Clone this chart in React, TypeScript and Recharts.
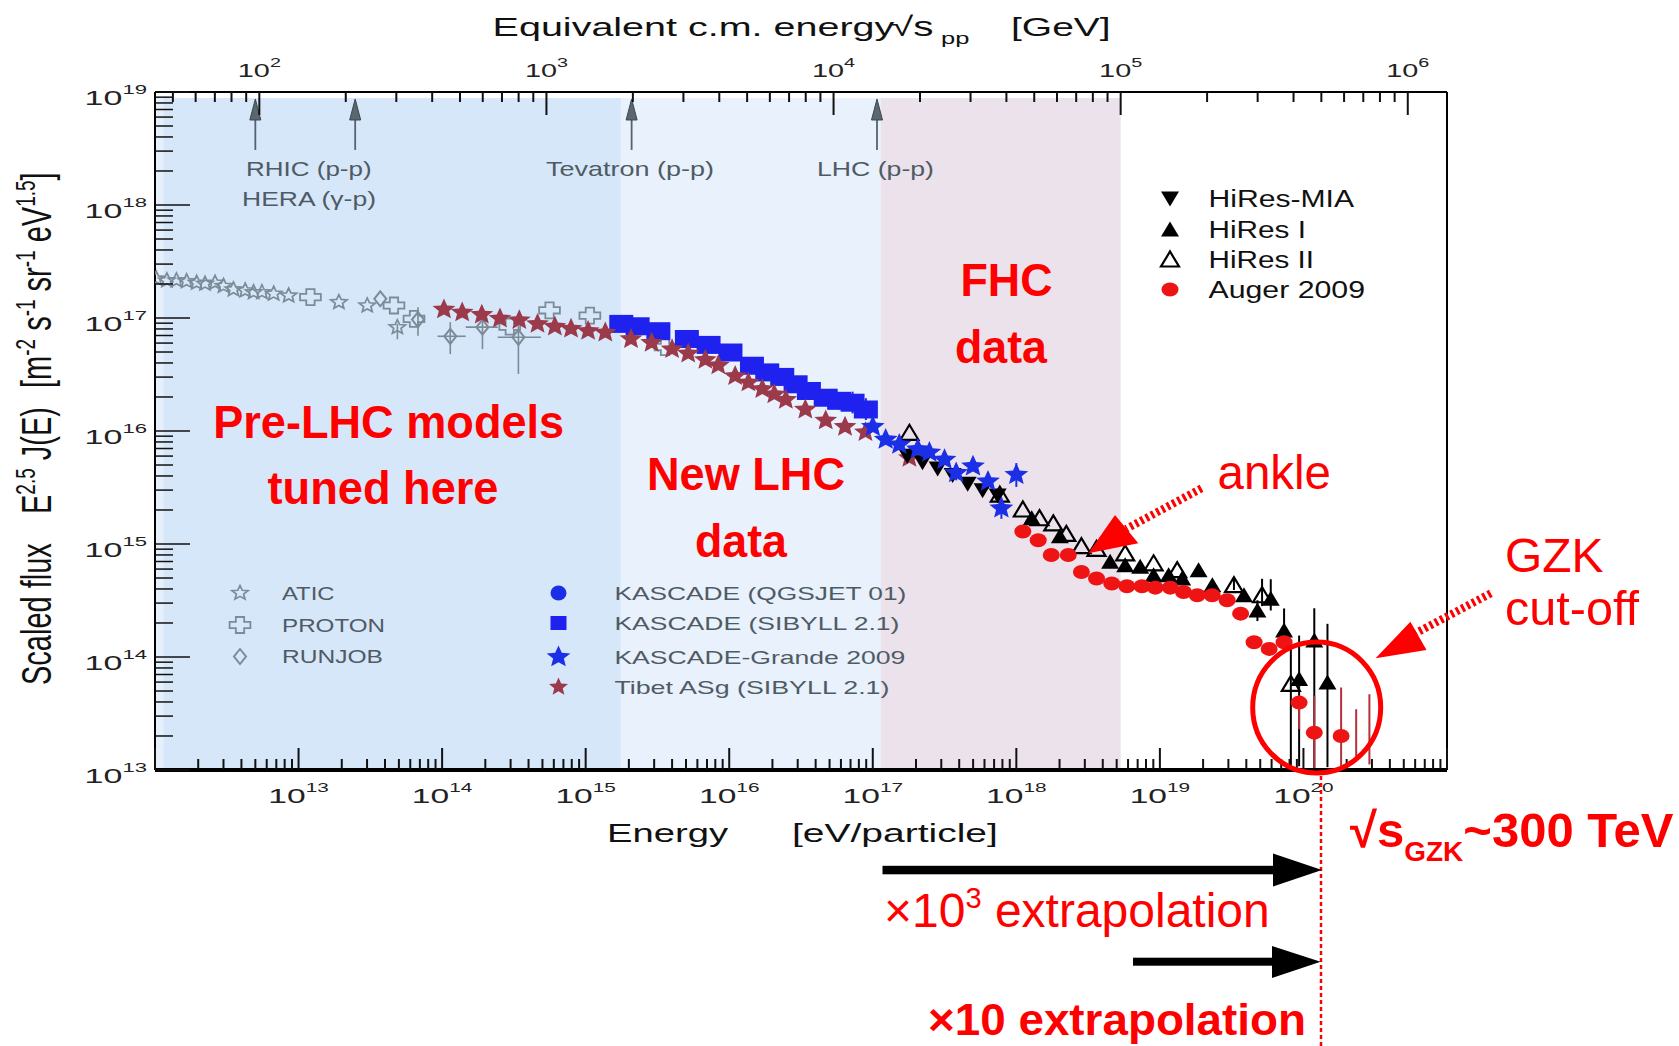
import React from "react";
import {
  ScatterChart,
  Scatter,
  XAxis,
  YAxis,
  ErrorBar,
  ReferenceArea,
  ReferenceLine,
  ReferenceDot,
} from "recharts";

const W = 1679;
const H = 1046;
const FONT = "'Liberation Sans', Arial, Helvetica, sans-serif";

// plot box (chart margins + axis sizes)
const MARGIN = { top: 32, right: 232, bottom: 216, left: 55 };
const Y_AXIS_W = 100;
const X_AXIS_H = 60;
const PLOT = {
  left: MARGIN.left + Y_AXIS_W,
  right: W - MARGIN.right,
  top: MARGIN.top + X_AXIS_H,
  bottom: H - MARGIN.bottom - X_AXIS_H,
};

// axes
const eDomain = [1e12, 1e21];
const fDomain = [1e13, 1e19];
const eDecades = [1e12, 1e13, 1e14, 1e15, 1e16, 1e17, 1e18, 1e19, 1e20, 1e21];
const fDecades = [1e13, 1e14, 1e15, 1e16, 1e17, 1e18, 1e19];
const sDecades = [1e2, 1e3, 1e4, 1e5, 1e6];
const sLowMinors = [50, 60, 70, 80, 90];
const minorSteps = [2, 3, 4, 5, 6, 7, 8, 9];

// shaded energy bands (eV): pre-LHC | LHC | FHC
const bandEdges = [1e12, 1.14e12, 1.76e15, 1.14e17, 5.33e18];
const bandTop = 8.85e18;

// collider equivalent energies (eV)
const colliders = [
  { name: "RHIC", e: 5.0e12 },
  { name: "HERA", e: 2.48e13 },
  { name: "Tevatron", e: 2.09e15 },
  { name: "LHC", e: 1.07e17 },
];

// data, E in eV, f = E^2.5 J(E)
const atic = [
  { e: 1.02e12, f: 2.23e17 },
  { e: 1.21e12, f: 2.15e17 },
  { e: 1.41e12, f: 2.15e17 },
  { e: 1.66e12, f: 2.11e17 },
  { e: 1.95e12, f: 2.05e17 },
  { e: 2.23e12, f: 2.01e17 },
  { e: 2.62e12, f: 2.05e17 },
  { e: 3.0e12, f: 1.92e17 },
  { e: 3.52e12, f: 1.79e17 },
  { e: 4.25e12, f: 1.75e17 },
  { e: 4.86e12, f: 1.69e17 },
  { e: 5.56e12, f: 1.69e17 },
  { e: 6.71e12, f: 1.64e17 },
  { e: 8.53e12, f: 1.58e17 },
  { e: 1.91e13, f: 1.38e17 },
  { e: 3.01e13, f: 1.29e17 },
  { e: 4.88e13, f: 8.28e16, ey: [1.8e16, 0.6e16] },
];

const proton = [
  { e: 1.21e13, f: 1.53e17 },
  { e: 4.62e13, f: 1.29e17 },
  { e: 6.37e13, f: 9.82e16 },
  { e: 2.96e14, f: 8.39e16 },
  { e: 5.6e14, f: 1.17e17 },
  { e: 1.07e15, f: 1.05e17 },
  { e: 3.57e15, f: 5.53e16 },
];

const runjob = [
  { e: 3.71e13, f: 1.48e17 },
  { e: 6.79e13, f: 9.68e16, ey: [2.7e16, 2.8e16] },
  { e: 1.14e14, f: 6.89e16, ey: [2.1e16, 2.3e16], ex: [2.1e13, 3.2e13] },
  { e: 1.91e14, f: 8.3e16, ey: [3.0e16, 1.2e16], ex: [4.5e13, 5.3e13] },
  { e: 3.4e14, f: 6.75e16, ey: [3.55e16, 1.8e16], ex: [0.96e14, 1.48e14] },
];

const tibet = [
  { e: 1.03e14, f: 1.19e17 },
  { e: 1.38e14, f: 1.12e17 },
  { e: 1.89e14, f: 1.07e17 },
  { e: 2.53e14, f: 9.89e16 },
  { e: 3.45e14, f: 9.57e16 },
  { e: 4.62e14, f: 8.87e16 },
  { e: 6.1e14, f: 8.39e16 },
  { e: 7.91e14, f: 8.04e16 },
  { e: 1.04e15, f: 7.69e16 },
  { e: 1.37e15, f: 7.43e16 },
  { e: 2.07e15, f: 6.52e16 },
  { e: 2.88e15, f: 6.04e16 },
  { e: 4.0e15, f: 5.3e16 },
  { e: 5.18e15, f: 4.85e16 },
  { e: 6.82e15, f: 4.26e16 },
  { e: 8.39e15, f: 3.81e16 },
  { e: 1.1e16, f: 3.06e16 },
  { e: 1.36e16, f: 2.69e16 },
  { e: 1.7e16, f: 2.35e16 },
  { e: 2.06e16, f: 2.11e16 },
  { e: 2.48e16, f: 1.89e16 },
  { e: 3.39e16, f: 1.55e16 },
  { e: 4.7e16, f: 1.24e16 },
  { e: 6.41e16, f: 1.09e16 },
  { e: 8.89e16, f: 9.77e15 },
  { e: 1.8e17, f: 5.78e15 },
];

const kascadeQgs = [
  { e: 2.3e15, f: 8.3e16 },
  { e: 5.07e15, f: 6.4e16 },
  { e: 1.02e16, f: 4.9e16 },
  { e: 2.34e16, f: 2.95e16 },
  { e: 4.7e16, f: 1.93e16 },
];

const kascadeSib = [
  { e: 1.77e15, f: 8.87e16 },
  { e: 2.3e15, f: 8.45e16 },
  { e: 3.21e15, f: 7.64e16 },
  { e: 5.07e15, f: 6.52e16 },
  { e: 7.18e15, f: 5.78e16 },
  { e: 1.02e16, f: 4.95e16 },
  { e: 1.44e16, f: 3.78e16 },
  { e: 1.84e16, f: 3.3e16 },
  { e: 2.34e16, f: 3.01e16 },
  { e: 2.9e16, f: 2.59e16 },
  { e: 3.59e16, f: 2.26e16 },
  { e: 4.7e16, f: 1.97e16, ey: [0.3e16, 0.35e16] },
  { e: 5.83e16, f: 1.85e16, ey: [0.3e16, 0.35e16] },
  { e: 7.23e16, f: 1.78e16, ey: [0.35e16, 0.45e16] },
  { e: 8.95e16, f: 1.55e16, ey: [0.3e16, 0.4e16] },
];

const grande = [
  { e: 1.0e17, f: 1.09e16 },
  { e: 1.23e17, f: 8.4e15 },
  { e: 1.53e17, f: 7.59e15 },
  { e: 2.06e17, f: 6.89e15 },
  { e: 2.48e17, f: 6.46e15 },
  { e: 3.16e17, f: 5.58e15 },
  { e: 3.81e17, f: 4.26e15, ey: [0.6e15, 0.6e15] },
  { e: 4.99e17, f: 4.88e15 },
  { e: 6.35e17, f: 3.58e15, ey: [0.5e15, 0.6e15] },
  { e: 7.87e17, f: 2.07e15, ey: [0.4e15, 0.5e15] },
  { e: 1.0e18, f: 4.1e15, ey: [0.9e15, 1.1e15] },
];

const hiresMia = [
  { e: 1.74e17, f: 6.04e15 },
  { e: 2.22e17, f: 5.3e15 },
  { e: 2.83e17, f: 4.65e15 },
  { e: 3.6e17, f: 4.07e15 },
  { e: 4.58e17, f: 3.41e15 },
  { e: 5.82e17, f: 2.99e15 },
  { e: 7.41e17, f: 2.69e15 },
];

const hires1 = [
  { e: 1.28e18, f: 1.69e15 },
  { e: 2.01e18, f: 1.17e15 },
  { e: 4.5e18, f: 6.95e14 },
  { e: 5.73e18, f: 6.5e14 },
  { e: 7.29e18, f: 6.28e14 },
  { e: 9.04e18, f: 5.3e14 },
  { e: 1.15e19, f: 5.3e14 },
  { e: 1.43e19, f: 4.95e14 },
  { e: 1.86e19, f: 5.87e14 },
  { e: 2.32e19, f: 4.32e14 },
  { e: 3.85e19, f: 3.52e14 },
  { e: 4.78e19, f: 2.58e14, ey: [0.5e14, 0.6e14] },
  { e: 5.92e19, f: 3.28e14, ey: [0.7e14, 1.6e14] },
  { e: 7.33e19, f: 1.72e14, ey: [0.62e14, 0.97e14] },
  { e: 9.33e19, f: 6.38e13, ey: [5.3e13, 9.1e13] },
  { e: 1.19e20, f: 1.4e14, ey: [1.3e14, 1.3e14] },
  { e: 1.47e20, f: 5.96e13, ey: [4.9e13, 1.37e14] },
];

const hires2 = [
  { e: 1.8e17, f: 9.64e15 },
  { e: 7.67e17, f: 2.74e15 },
  { e: 1.11e18, f: 2.02e15 },
  { e: 1.45e18, f: 1.69e15 },
  { e: 1.81e18, f: 1.52e15 },
  { e: 2.23e18, f: 1.23e15 },
  { e: 2.84e18, f: 9.57e14 },
  { e: 3.62e18, f: 9.06e14 },
  { e: 5.73e18, f: 8.26e14 },
  { e: 9.04e18, f: 6.75e14 },
  { e: 1.32e19, f: 5.87e14 },
  { e: 3.28e19, f: 4.32e14, ey: [0.4e14, 0.6e14] },
  { e: 5.15e19, f: 3.52e14, ey: [0.7e14, 1.4e14] },
  { e: 8.17e19, f: 5.78e13, ey: [4.75e13, 6.8e13] },
];

const auger = [
  { e: 1.11e18, f: 1.29e15 },
  { e: 1.42e18, f: 1.08e15 },
  { e: 1.75e18, f: 7.98e14 },
  { e: 2.3e18, f: 7.98e14 },
  { e: 2.84e18, f: 5.65e14 },
  { e: 3.62e18, f: 4.95e14 },
  { e: 4.62e18, f: 4.47e14 },
  { e: 5.89e18, f: 4.23e14 },
  { e: 7.5e18, f: 4.23e14 },
  { e: 9.29e18, f: 4.11e14 },
  { e: 1.18e19, f: 4.11e14 },
  { e: 1.46e19, f: 3.76e14 },
  { e: 1.82e19, f: 3.52e14 },
  { e: 2.31e19, f: 3.52e14 },
  { e: 2.94e19, f: 3.18e14 },
  { e: 3.65e19, f: 2.42e14 },
  { e: 4.53e19, f: 1.35e14, ey: [0.15e14, 0.15e14] },
  { e: 5.77e19, f: 1.18e14, ey: [0.15e14, 0.15e14] },
  { e: 7.33e19, f: 1.35e14, ey: [0.15e14, 0.2e14] },
  { e: 9.33e19, f: 3.95e13, ey: [1.65e13, 0.6e13] },
  { e: 1.19e20, f: 2.14e13, ey: [1.12e13, 2.4e13] },
  { e: 1.83e20, f: 2.0e13, ey: [0.98e13, 3.37e13] },
];

const augerLimits = [
  { e: 2.33e20, f: 3.45e13, ey: [2.12e13, 0] },
  { e: 2.88e20, f: 4.68e13, ey: [3.56e13, 0] },
];

// tick lists
const eTicks = [...eDecades, ...eDecades.slice(0, -1).flatMap((d) => minorSteps.map((m) => d * m))];
const fTicks = [...fDecades, ...fDecades.slice(0, -1).flatMap((d) => minorSteps.map((m) => d * m))];
const sTicks = [...sLowMinors, ...sDecades, ...sDecades.slice(0, -1).flatMap((d) => minorSteps.map((m) => d * m))];

// sqrt(s) for a proton hitting a proton at rest, GeV
const M_P = 0.938;
const sqrtS = (e: number) => Math.sqrt((2 * M_P * e) / 1e9);
const labE = (s: number) => (s * s * 1e9) / (2 * M_P);
const sDomain = eDomain.map(sqrtS);
const sAnchor = [{ s: sDomain[0], f: fDomain[0] }];

const isDecade = (v: number) => Math.abs(Math.log10(v) - Math.round(Math.log10(v))) < 1e-6;
const expOf = (v: number) => Math.round(Math.log10(v));

// same log mapping the energy axis uses, for the frame tick marks
const xOfE = (e: number) =>
  PLOT.left +
  ((Math.log10(e) - Math.log10(eDomain[0])) / (Math.log10(eDomain[1]) - Math.log10(eDomain[0]))) *
    (PLOT.right - PLOT.left);

function YTick(props: any) {
  const { x, y, payload } = props;
  const v = payload.value;
  const major = isDecade(v);
  return (
    <g>
      <line x1={x} x2={x + (major ? 35 : 18)} y1={y} y2={y} stroke="#111" strokeWidth={1.5} />
      {major && (
        <g transform={`translate(${x - 8},${y + 13}) scale(1.7,1)`}>
          <text textAnchor="end" fontSize={20} fontFamily={FONT} fill="#222">
            10<tspan dy={-11} fontSize={13}>{expOf(v)}</tspan>
          </text>
        </g>
      )}
    </g>
  );
}

function XTick(props: any) {
  const { x, y, payload } = props;
  const v = payload.value;
  if (!(isDecade(v) && v > eDomain[0] && v < eDomain[1])) return <g />;
  return (
    <g transform={`translate(${x},${y + 33}) scale(1.6,1)`}>
      <text textAnchor="middle" fontSize={21} fontFamily={FONT} fill="#222">
        10<tspan dy={-11} fontSize={13}>{expOf(v)}</tspan>
      </text>
    </g>
  );
}

function TopTick(props: any) {
  const { x, y, payload } = props;
  const v = payload.value;
  if (!isDecade(v)) return <g />;
  return (
    <g transform={`translate(${x},${y - 15}) scale(1.52,1)`}>
      <text textAnchor="middle" fontSize={19} fontFamily={FONT} fill="#222">
        10<tspan dy={-10} fontSize={13}>{expOf(v)}</tspan>
      </text>
    </g>
  );
}

// marker geometry
const starPts = (cx: number, cy: number, rx: number, ry: number, k = 0.45) => {
  const pts: string[] = [];
  for (let i = 0; i < 10; i++) {
    const a = (Math.PI / 5) * i;
    const r = i % 2 === 0 ? 1 : k;
    pts.push(`${cx + Math.sin(a) * rx * r},${cy - Math.cos(a) * ry * r}`);
  }
  return pts.join(" ");
};
const crossPts = (cx: number, cy: number, a: number, l: number, sx: number) =>
  [
    [-a, -l], [a, -l], [a, -a], [l, -a], [l, a], [a, a], [a, l], [-a, l], [-a, a], [-l, a], [-l, -a], [-a, -a],
  ]
    .map(([u, v]) => `${cx + u * sx},${cy + v}`)
    .join(" ");

const GRAY = "#7b8b98";
const BROWN = "#9a3a4b";
const BLUE = "#1f22ef";
const BLUE2 = "#1b30e6";
const RED = "#ff0000";
const AUGER = "#ee1414";

const shapes = {
  atic: (p: any) => <polygon points={starPts(p.cx, p.cy, 8.5, 7.5)} fill="none" stroke={GRAY} strokeWidth={1.7} />,
  proton: (p: any) => <polygon points={crossPts(p.cx, p.cy, 3.2, 8, 1.3)} fill="none" stroke={GRAY} strokeWidth={1.8} />,
  runjob: (p: any) => (
    <polygon
      points={`${p.cx},${p.cy - 7.5} ${p.cx + 6},${p.cy} ${p.cx},${p.cy + 7.5} ${p.cx - 6},${p.cy}`}
      fill="none"
      stroke={GRAY}
      strokeWidth={2}
    />
  ),
  qgs: (p: any) => <ellipse cx={p.cx} cy={p.cy} rx={8} ry={7.5} fill={BLUE2} />,
  sib: (p: any) => <rect x={p.cx - 12} y={p.cy - 9} width={24} height={18} fill={BLUE} />,
  tibet: (p: any) => <polygon points={starPts(p.cx, p.cy, 12, 11)} fill={BROWN} />,
  grande: (p: any) => <polygon points={starPts(p.cx, p.cy, 12.5, 11.5)} fill={BLUE2} />,
  mia: (p: any) => (
    <polygon points={`${p.cx - 9},${p.cy - 7} ${p.cx + 9},${p.cy - 7} ${p.cx},${p.cy + 8}`} fill="#000" />
  ),
  hr1: (p: any) => (
    <polygon points={`${p.cx - 9},${p.cy + 7} ${p.cx + 9},${p.cy + 7} ${p.cx},${p.cy - 8}`} fill="#000" />
  ),
  hr2: (p: any) => (
    <polygon
      points={`${p.cx - 9},${p.cy + 7} ${p.cx + 9},${p.cy + 7} ${p.cx},${p.cy - 8}`}
      fill="none"
      stroke="#000"
      strokeWidth={2.2}
    />
  ),
  auger: (p: any) => <ellipse cx={p.cx} cy={p.cy} rx={8.5} ry={7} fill={AUGER} />,
  none: () => <g />,
};

const legendSib = (p: any) => <rect x={p.cx - 8} y={p.cy - 7} width={16} height={14} fill={BLUE} />;
const legendTibet = (p: any) => <polygon points={starPts(p.cx, p.cy, 10, 9.5)} fill={BROWN} />;

const arrowHead = (p: any) => (
  <polygon
    points={`${p.cx},${p.cy - 11} ${p.cx + 5.5},${p.cy + 10} ${p.cx - 5.5},${p.cy + 10}`}
    fill="#5a6670"
    stroke="#3d4850"
    strokeWidth={1}
  />
);

const errY = (d: any) => d.ey ?? [0, 0];
const errX = (d: any) => d.ex ?? [0, 0];

// text helper for the stretched plot lettering
function Txt(props: any) {
  const { x, y, size, sx = 1, anchor = "start", fill = "#111", weight = 400, len, children } = props;
  const extra = len ? { textLength: len / sx, lengthAdjust: "spacingAndGlyphs" } : {};
  return (
    <g transform={`translate(${x},${y}) scale(${sx},1)`}>
      <text x={0} y={0} fontSize={size} fontFamily={FONT} textAnchor={anchor} fill={fill} fontWeight={weight} {...extra}>
        {children}
      </text>
    </g>
  );
}

function FrameTicks() {
  return (
    <g stroke="#111" strokeWidth={2}>
      {eTicks.map((t) => {
        const x = xOfE(t);
        return <line key={"b" + t} x1={x} x2={x} y1={PLOT.bottom - 1} y2={PLOT.bottom - (isDecade(t) ? 22 : 11)} />;
      })}
      {sTicks.map((t) => {
        const x = xOfE(labE(t));
        return <line key={"t" + t} x1={x} x2={x} y1={PLOT.top} y2={PLOT.top + (isDecade(t) ? 23 : 10)} />;
      })}
    </g>
  );
}

function Overlay() {
  const legL = [
    { s: shapes.atic, label: "ATIC", y: 593, len: 52.5 },
    { s: shapes.proton, label: "PROTON", y: 625, len: 103 },
    { s: shapes.runjob, label: "RUNJOB", y: 656.5, len: 101 },
  ];
  const legM = [
    { s: shapes.qgs, label: "KASCADE (QGSJET 01)", y: 593, len: 292 },
    { s: legendSib, label: "KASCADE (SIBYLL 2.1)", y: 623, len: 285 },
    { s: shapes.grande, label: "KASCADE-Grande 2009", y: 657, len: 291 },
    { s: legendTibet, label: "Tibet ASg (SIBYLL 2.1)", y: 687, len: 275 },
  ];
  const legR = [
    { s: shapes.mia, label: "HiRes-MIA", y: 198.5, len: 145.5 },
    { s: shapes.hr1, label: "HiRes I", y: 229.5, len: 97.5 },
    { s: shapes.hr2, label: "HiRes II", y: 259.5, len: 105.5 },
    { s: shapes.auger, label: "Auger 2009", y: 289.5, len: 156.5 },
  ];
  return (
    <svg width={W} height={H} style={{ position: "absolute", left: 0, top: 0, pointerEvents: "none" }}>
      <FrameTicks />

      {/* axis titles */}
      <Txt x={492.6} y={36} size={25} sx={1.58}>Equivalent c.m. energy</Txt>
      <Txt x={891} y={36} size={27} sx={1.5}>√s</Txt>
      <Txt x={941} y={44} size={17} sx={1.5}>pp</Txt>
      <Txt x={1011} y={36} size={25} sx={1.56}>[GeV]</Txt>
      <Txt x={607} y={842} size={26} sx={1.47}>Energy</Txt>
      <Txt x={792} y={842} size={26} sx={1.5}>[eV/particle]</Txt>
      <g transform="translate(51,685) scale(1.45,1) rotate(-90)">
        <text x={0} y={0} fontSize={29} fontFamily={FONT} fill="#111">
          Scaled flux
          <tspan x={171}>E</tspan>
          <tspan dy={-11} fontSize={19}>2.5</tspan>
          <tspan dy={11}> J(E)</tspan>
          <tspan x={297}>[m</tspan>
          <tspan dy={-11} fontSize={19}>-2</tspan>
          <tspan dy={11}> s</tspan>
          <tspan dy={-11} fontSize={19}>-1</tspan>
          <tspan dy={11}> sr</tspan>
          <tspan dy={-11} fontSize={19}>-1</tspan>
          <tspan dy={11}> eV</tspan>
          <tspan dy={-11} fontSize={19}>1.5</tspan>
          <tspan dy={11}>]</tspan>
        </text>
      </g>

      {/* collider labels */}
      <Txt x={246} y={175.5} size={21} len={125.6} fill="#4f5b64">RHIC (p-p)</Txt>
      <Txt x={242} y={205.5} size={21} len={134} fill="#4f5b64">HERA (γ-p)</Txt>
      <Txt x={546} y={175.5} size={21} len={168} fill="#4f5b64">Tevatron (p-p)</Txt>
      <Txt x={817} y={175.5} size={21} len={117} fill="#4f5b64">LHC (p-p)</Txt>

      {/* legends */}
      {legL.map((r) => (
        <g key={r.label}>
          {r.s({ cx: 240, cy: r.y })}
          <Txt x={282} y={r.y + 6.5} size={19} len={r.len} fill="#4f5b64">{r.label}</Txt>
        </g>
      ))}
      {legM.map((r) => (
        <g key={r.label}>
          {r.s({ cx: 558.5, cy: r.y })}
          <Txt x={614.4} y={r.y + 7} size={19} len={r.len} fill="#4f5b64">{r.label}</Txt>
        </g>
      ))}
      {legR.map((r) => (
        <g key={r.label}>
          {r.s({ cx: 1170, cy: r.y })}
          <Txt x={1208.5} y={r.y + 8} size={23} len={r.len} fill="#111">{r.label}</Txt>
        </g>
      ))}

      {/* region captions */}
      <Txt x={388.7} y={438} size={46} weight={700} anchor="middle" fill={RED} len={351}>Pre-LHC models</Txt>
      <Txt x={383} y={504} size={46} weight={700} anchor="middle" fill={RED} len={231}>tuned here</Txt>
      <Txt x={746} y={490} size={46} weight={700} anchor="middle" fill={RED} len={198}>New LHC</Txt>
      <Txt x={741} y={557} size={46} weight={700} anchor="middle" fill={RED} len={92}>data</Txt>
      <Txt x={1006.5} y={295.5} size={46} weight={700} anchor="middle" fill={RED} len={92}>FHC</Txt>
      <Txt x={1001} y={363} size={46} weight={700} anchor="middle" fill={RED} len={92}>data</Txt>

      {/* ankle */}
      <line x1={1201.5} y1={488.3} x2={1126} y2={529} stroke={RED} strokeWidth={8} strokeDasharray="3 3" />
      <polygon points="1088.3,553.3 1115,515 1138.3,543.3" fill={RED} />
      <Txt x={1217.5} y={489} size={48} fill={RED} len={113.5}>ankle</Txt>

      {/* GZK */}
      <line x1={1490.8} y1={593.3} x2={1416} y2={633} stroke={RED} strokeWidth={8} strokeDasharray="3 3" />
      <polygon points="1375.6,658.3 1410.4,621.7 1426.5,650" fill={RED} />
      <Txt x={1505} y={572} size={48} fill={RED} len={98.5}>GZK</Txt>
      <Txt x={1505} y={625} size={48} fill={RED} len={134}>cut-off</Txt>
      <ellipse cx={1316.7} cy={707.5} rx={64} ry={65.5} fill="none" stroke={RED} strokeWidth={5} />
      <line x1={1321} y1={776} x2={1321} y2={H} stroke={RED} strokeWidth={2.5} strokeDasharray="4 3" />

      {/* extrapolation arrows */}
      <rect x={882.5} y={865.8} width={392} height={8.5} fill="#000" />
      <polygon points="1273,853.5 1273,886.5 1322,870" fill="#000" />
      <rect x={1133} y={957.7} width={140} height={8} fill="#000" />
      <polygon points="1272,946 1272,978 1320.6,961.7" fill="#000" />

      <text x={1350} y={847} fontSize={49} fontWeight={700} fontFamily={FONT} fill={RED}>
        √s<tspan dy={14} fontSize={28}>GZK</tspan>
        <tspan dy={-14}>~300 TeV</tspan>
      </text>
      <text x={884} y={927} fontSize={48} fontFamily={FONT} fill={RED}>
        ×10<tspan dy={-19} fontSize={29}>3</tspan>
        <tspan dy={19}> extrapolation</tspan>
      </text>
      <Txt x={928} y={1035} size={44} weight={700} fill={RED} len={378}>×10 extrapolation</Txt>
    </svg>
  );
}

const bandFills = ["#e6f0fb", "#d7e7fa", "#e8f1fc", "#ece2ec"];

export default function App() {
  return (
    <div style={{ position: "absolute", left: 0, top: 0, width: W, height: H, background: "#fff", fontFamily: FONT }}>
      <ScatterChart width={W} height={H} margin={MARGIN}>
        {bandFills.map((c, i) => (
          <ReferenceArea
            key={c}
            xAxisId="e"
            x1={bandEdges[i]}
            x2={bandEdges[i + 1]}
            y1={fDomain[0]}
            y2={bandTop}
            fill={c}
            fillOpacity={1}
            stroke="none"
            ifOverflow="visible"
          />
        ))}
        <XAxis
          xAxisId="e"
          dataKey="e"
          type="number"
          scale="log"
          domain={eDomain}
          allowDataOverflow
          ticks={eTicks}
          interval={0}
          tick={XTick}
          tickLine={false}
          tickSize={0}
          tickMargin={0}
          height={X_AXIS_H}
          axisLine={{ stroke: "#000", strokeWidth: 4 }}
        />
        <XAxis
          xAxisId="s"
          dataKey="s"
          orientation="top"
          type="number"
          scale="log"
          domain={sDomain}
          allowDataOverflow
          ticks={sTicks}
          interval={0}
          tick={TopTick}
          tickLine={false}
          tickSize={0}
          tickMargin={0}
          height={X_AXIS_H}
          axisLine={{ stroke: "#000", strokeWidth: 2 }}
        />
        <YAxis
          dataKey="f"
          type="number"
          scale="log"
          domain={fDomain}
          allowDataOverflow
          ticks={fTicks}
          interval={0}
          tick={YTick}
          tickLine={false}
          tickSize={0}
          tickMargin={0}
          width={Y_AXIS_W}
          axisLine={{ stroke: "#000", strokeWidth: 2 }}
        />
        <ReferenceLine xAxisId="e" x={eDomain[1]} stroke="#000" strokeWidth={2} ifOverflow="visible" />
        {colliders.map((c) => (
          <ReferenceLine
            key={c.name}
            xAxisId="e"
            segment={[
              { x: c.e, y: 3.07e18 },
              { x: c.e, y: 7.5e18 },
            ]}
            stroke="#56636e"
            strokeWidth={1.8}
            ifOverflow="visible"
          />
        ))}
        {colliders.map((c) => (
          <ReferenceDot key={c.name + "h"} xAxisId="e" x={c.e} y={6.93e18} shape={arrowHead} ifOverflow="visible" />
        ))}

        <Scatter name="axis anchor" data={sAnchor} xAxisId="s" shape={shapes.none} isAnimationActive={false} />
        <Scatter name="ATIC" data={atic} xAxisId="e" shape={shapes.atic} isAnimationActive={false}>
          <ErrorBar dataKey={errY} direction="y" width={0} stroke={GRAY} strokeWidth={1.6} />
        </Scatter>
        <Scatter name="PROTON" data={proton} xAxisId="e" shape={shapes.proton} isAnimationActive={false} />
        <Scatter name="RUNJOB" data={runjob} xAxisId="e" shape={shapes.runjob} isAnimationActive={false}>
          <ErrorBar dataKey={errY} direction="y" width={0} stroke={GRAY} strokeWidth={1.6} />
          <ErrorBar dataKey={errX} direction="x" width={0} stroke={GRAY} strokeWidth={1.6} />
        </Scatter>
        <Scatter name="KASCADE (QGSJET 01)" data={kascadeQgs} xAxisId="e" shape={shapes.qgs} isAnimationActive={false} />
        <Scatter name="KASCADE (SIBYLL 2.1)" data={kascadeSib} xAxisId="e" shape={shapes.sib} isAnimationActive={false}>
          <ErrorBar dataKey={errY} direction="y" width={0} stroke={BLUE} strokeWidth={2} />
        </Scatter>
        <Scatter name="Tibet ASg (SIBYLL 2.1)" data={tibet} xAxisId="e" shape={shapes.tibet} isAnimationActive={false} />
        <Scatter name="HiRes-MIA" data={hiresMia} xAxisId="e" shape={shapes.mia} isAnimationActive={false} />
        <Scatter name="HiRes I" data={hires1} xAxisId="e" shape={shapes.hr1} isAnimationActive={false}>
          <ErrorBar dataKey={errY} direction="y" width={0} stroke="#000" strokeWidth={2} />
        </Scatter>
        <Scatter name="HiRes II" data={hires2} xAxisId="e" shape={shapes.hr2} isAnimationActive={false}>
          <ErrorBar dataKey={errY} direction="y" width={0} stroke="#000" strokeWidth={2} />
        </Scatter>
        <Scatter name="Auger limits" data={augerLimits} xAxisId="e" shape={shapes.none} isAnimationActive={false}>
          <ErrorBar dataKey={errY} direction="y" width={0} stroke="#b5303a" strokeWidth={2} />
        </Scatter>
        <Scatter name="Auger 2009" data={auger} xAxisId="e" shape={shapes.auger} isAnimationActive={false}>
          <ErrorBar dataKey={errY} direction="y" width={0} stroke="#b5303a" strokeWidth={2} />
        </Scatter>
        <Scatter name="KASCADE-Grande 2009" data={grande} xAxisId="e" shape={shapes.grande} isAnimationActive={false}>
          <ErrorBar dataKey={errY} direction="y" width={0} stroke={BLUE2} strokeWidth={2} />
        </Scatter>
      </ScatterChart>
      <Overlay />
    </div>
  );
}
